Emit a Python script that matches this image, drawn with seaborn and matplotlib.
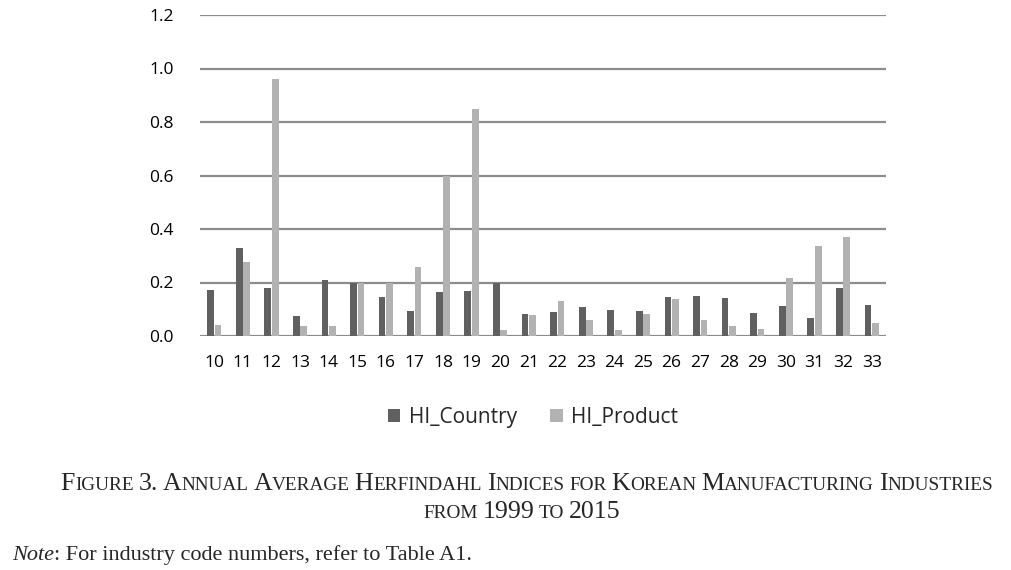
import matplotlib
matplotlib.use("Agg")
import matplotlib.pyplot as plt
import seaborn as sns
import pandas as pd
from matplotlib.patches import Patch

industries = [str(c) for c in range(10, 34)]
hi_country = [0.171, 0.328, 0.181, 0.075, 0.209, 0.200, 0.146, 0.095, 0.164, 0.167,
              0.200, 0.082, 0.089, 0.107, 0.096, 0.094, 0.147, 0.150, 0.142, 0.085,
              0.111, 0.067, 0.179, 0.116]
hi_product = [0.042, 0.275, 0.959, 0.037, 0.036, 0.199, 0.199, 0.257, 0.600, 0.848,
              0.022, 0.078, 0.129, 0.061, 0.024, 0.081, 0.139, 0.060, 0.036, 0.026,
              0.216, 0.337, 0.371, 0.050]
series_names = ["HI_Country", "HI_Product"]
y_ticks = [0.0, 0.2, 0.4, 0.6, 0.8, 1.0, 1.2]

df = pd.DataFrame({
    "industry": industries * 2,
    "series": [series_names[0]] * len(industries) + [series_names[1]] * len(industries),
    "value": hi_country + hi_product,
})

sns.set_theme(style="white")
plt.rcParams["font.family"] = ["Open Sans", "DejaVu Sans"]

colors = {"HI_Country": "#606060", "HI_Product": "#b2b2b2"}

fig = plt.figure(figsize=(10.11, 5.70), dpi=100)
ax = fig.add_axes([200 / 1011, 1 - 336 / 570, 686 / 1011, 321 / 570])

sns.barplot(data=df, x="industry", y="value", hue="series", order=industries,
            hue_order=series_names, palette=colors, width=0.52, gap=0.1,
            saturation=1, legend=False, ax=ax, errorbar=None, linewidth=0)

ax.set_xlim(-0.5, len(industries) - 0.5)
ax.set_ylim(0, 1.2)
ax.set_yticks(y_ticks)
ax.set_yticklabels([f"{v:.1f}" for v in y_ticks])
for v in y_ticks:
    ax.axhline(v, color="#8c8c8c", lw=1.6, zorder=0)
for s in ax.spines.values():
    s.set_visible(False)
ax.set_xlabel("")
ax.set_ylabel("")
ax.tick_params(axis="both", length=0, labelsize=12.5, colors="#000000")
ax.tick_params(axis="y", pad=19)
ax.tick_params(axis="x", pad=14)

handles = [Patch(facecolor=colors[n], edgecolor="none", label=n) for n in series_names]
fig.legend(handles=handles, loc="center", bbox_to_anchor=(0.527, 1 - 417 / 570),
           ncol=2, frameon=False, fontsize=15, handlelength=0.6, handleheight=0.6,
           handletextpad=0.4, columnspacing=1.6)

# Caption in small caps, laid out piece by piece
renderer = fig.canvas.get_renderer()
serif = ["Liberation Serif", "DejaVu Serif"]
big, small = 18.6, 13.9


def small_caps_pieces(text):
    pieces = []
    for w_i, word in enumerate(text.split(" ")):
        if w_i > 0:
            pieces.append((" ", small))
        if word[0].isupper() or word[0].isdigit():
            i = 0
            lead = ""
            while i < len(word) and (word[i].isupper() or word[i].isdigit() or word[i] == "."):
                lead += word[i]
                i += 1
            pieces.append((lead, big))
            if i < len(word):
                pieces.append((word[i:].upper(), small))
        else:
            pieces.append((word.upper(), small))
    return pieces


def draw_small_caps(text, y_px, cx):
    pieces = small_caps_pieces(text)
    widths = []
    for t, fs in pieces:
        tt = fig.text(0, 0, t.replace(" ", "\u00a0"), fontsize=fs, family=serif)
        bb = tt.get_window_extent(renderer)
        widths.append(bb.width)
        tt.remove()
    total = sum(widths)
    x = cx - total / 2
    for (t, fs), w in zip(pieces, widths):
        fig.text(x / 1011, 1 - y_px / 570, t.replace(" ", "\u00a0"), fontsize=fs,
                 family=serif, va="baseline", ha="left")
        x += w


draw_small_caps("Figure 3. Annual Average Herfindahl Indices for Korean Manufacturing Industries", 490, 527)
draw_small_caps("from 1999 to 2015", 518, 522)

t1 = fig.text(12 / 1011, 1 - 560 / 570, "Note", fontsize=16, family=serif,
              style="italic", va="baseline", ha="left")
w = t1.get_window_extent(renderer).width
fig.text((12 + w) / 1011, 1 - 560 / 570, ": For industry code numbers, refer to Table A1.",
         fontsize=16, family=serif, va="baseline", ha="left")

fig.savefig("out.png", dpi=100)
